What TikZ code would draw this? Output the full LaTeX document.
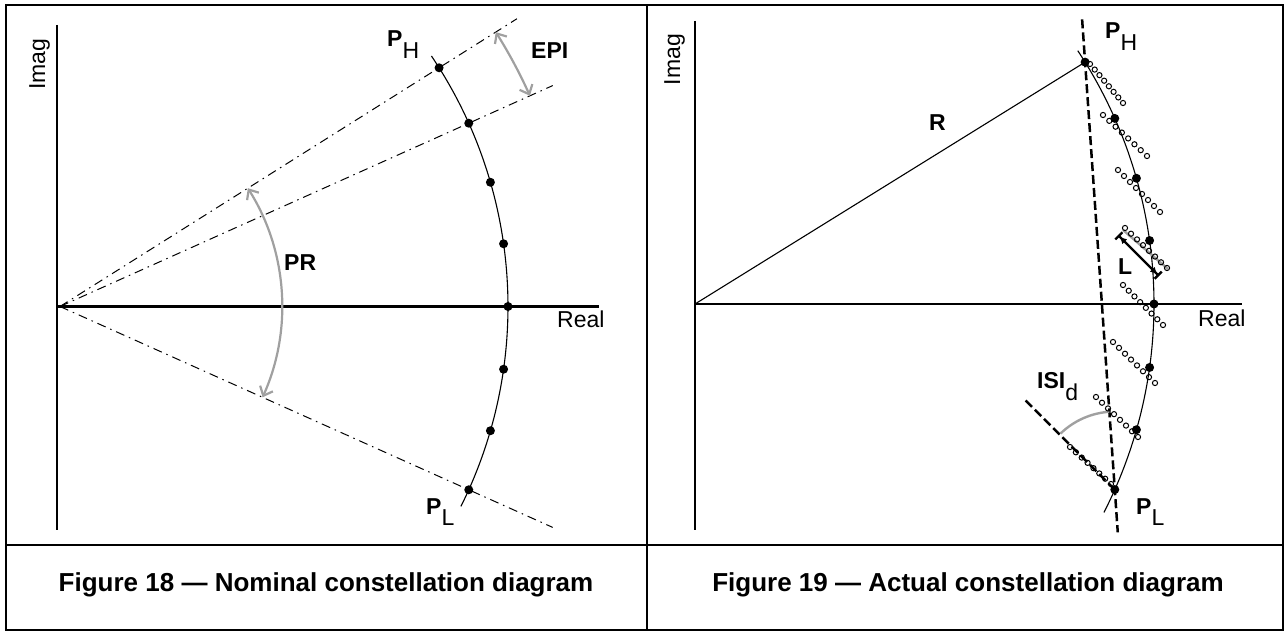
\documentclass[tikz,border=0pt]{standalone}
\usepackage{fontspec}
\setmainfont{Liberation Sans}
\usetikzlibrary{arrows.meta,calc}
\definecolor{arrowgray}{RGB}{160,160,160}
\tikzset{
  frameline/.style={line width=2.6pt},
  axisline/.style={line width=2.4pt},
  rimline/.style={line width=1.1pt},
  rayline/.style={line width=1pt, dash pattern=on 9pt off 5pt on 1.5pt off 5pt},
  chordline/.style={line width=2.5pt, dash pattern=on 9pt off 4pt},
  grayarrow/.style={arrowgray, line width=2.2pt, {Straight Barb[length=8pt,width=14pt]}-{Straight Barb[length=8pt,width=14pt]}},
  grayline/.style={arrowgray, line width=2.4pt},
  lenarrow/.style={line width=2.4pt, {Bar[width=10pt]Latex[length=7pt,width=7pt]}-{Latex[length=7pt,width=7pt]Bar[width=10pt]}},
  symdot/.style={fill=black},
  sampcirc/.style={line width=1pt},
  lbl/.style={font=\fontsize{23}{27}\selectfont\bfseries, inner sep=0pt, anchor=base west},
  axlbl/.style={font=\fontsize{23}{27}\selectfont, inner sep=0pt, anchor=base west},
  figcap/.style={font=\fontsize{26}{30}\selectfont\bfseries, inner sep=0pt, anchor=base}
}
\newcommand{\lowsub}[1]{\raisebox{-12pt}{\mdseries #1}}

\begin{document}
\begin{tikzpicture}[x=1pt, y=1pt]
  \useasboundingbox (0,0) rectangle (1287,632);
  \draw[frameline] (6,2) rectangle (1283,627);
  \draw[frameline] (6,87) -- (1283,87);
  \draw[frameline] (647,2) -- (647,627);
  \node[figcap] (cap18) at (326,41) {Figure 18 — Nominal constellation diagram};
  \node[figcap] (cap19) at (968,41) {Figure 19 — Actual constellation diagram};

  % nominal
  \begin{scope}[shift={(60,325.5)}]
    \coordinate (lo) at (0,0);
    \draw[axisline] (-3,281.5) -- (-3,-223.5);
    \draw[axisline] (-3,0) -- (539,0);
    \draw[rimline] (-26.5:448) arc[start angle=-26.5, end angle=34, radius=448pt];
    \draw[rayline] (lo) -- (32.2:540);
    \draw[rayline] (lo) -- (24.15:540);
    \draw[rayline] (lo) -- (-24.15:540);
    \draw[grayarrow] (32.2:515) arc[start angle=32.2, end angle=24.15, radius=515pt];
    \draw[grayarrow] (32.2:222) arc[start angle=32.2, end angle=-24.15, radius=222pt];
    \foreach \k in {-3,...,4}
      \fill[symdot] ({\k*8.05}:448) circle[radius=4.5];
    \node[lbl] (lph) at (327,260) {P\lowsub{H}};
    \node[lbl] (lpl) at (366,-207.5) {P\lowsub{L}};
    \node[lbl] (epi) at (471,248) {EPI};
    \node[lbl] (pr) at (224,36) {PR};
    \node[axlbl] (lreal) at (497,-21) {Real};
    \node[axlbl, rotate=90] (limag) at (-15,216.5) {Imag};
  \end{scope}

  % actual
  \begin{scope}[shift={(695,328)}]
    \coordinate (ro) at (0,0);
    \coordinate (ph) at (31.8:459);
    \coordinate (pl) at (-23.85:459);
    \coordinate (isiend) at ($(pl)+(135:128)$);
    \draw[axisline] (0,283) -- (0,-226);
    \draw[axisline] (0,0) -- (547,0);
    \draw[rimline] (-27:459) arc[start angle=-27, end angle=33.5, radius=459pt];
    \draw[rimline] (ro) -- (ph);
    \draw[chordline] ($(ph)!-0.1!(pl)$) -- ($(pl)!-0.1!(ph)$);
    \draw[chordline] (pl) -- (isiend);
    \draw[grayline] ($(pl)+(94:78)$) arc[start angle=94, end angle=134, radius=78pt];
    \draw[grayline] (428,74) -- (473,35);
    \foreach \sx/\sy/\ex/\ey in {395/240/428/201, 408/189/452/148, 423/134/465/92, 430/76/472/36,
        428/19/468/-21, 418/-38/460/-79, 401/-93/443/-133, 375/-143/416/-180}
      \foreach \i in {0,...,7}
        \draw[sampcirc] ({\sx+\i*(\ex-\sx)/7},{\sy+\i*(\ey-\sy)/7}) circle[radius=2.6];
    \foreach \k in {-3,...,4}
      \fill[symdot] ({\k*7.95}:459) circle[radius=4.5];
    \coordinate (la) at (423,69);
    \coordinate (lb) at (464,28);
    \draw[lenarrow] (la) -- (lb);
    \node[lbl] (rph) at (410,265) {P\lowsub{H}};
    \node[lbl] (rpl) at (441,-210) {P\lowsub{L}};
    \node[lbl] (rlen) at (234,173) {R};
    \node[lbl] (llen) at (423,29) {L};
    \node[lbl] (isi) at (342,-85) {ISI\lowsub{d}};
    \node[axlbl] (rreal) at (503,-23) {Real};
    \node[axlbl, rotate=90] (rimag) at (-15,218.5) {Imag};
  \end{scope}
\end{tikzpicture}
\end{document}
